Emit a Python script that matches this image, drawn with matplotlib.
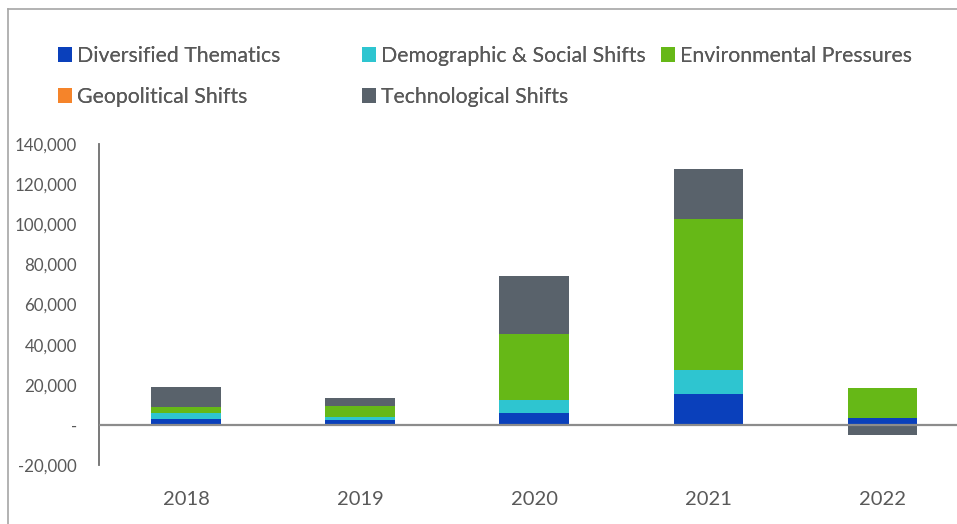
import matplotlib.pyplot as plt
from matplotlib.ticker import FuncFormatter
from matplotlib.lines import Line2D
from matplotlib.patches import Patch
import numpy as np

years = ['2018', '2019', '2020', '2021', '2022']
series = ['Diversified Thematics', 'Demographic & Social Shifts', 'Environmental Pressures',
          'Geopolitical Shifts', 'Technological Shifts']
diversified   = [3100, 2300, 6150, 15300, 3600]
demographic   = [3000, 1500, 6300, 12100, 0]
environmental = [3000, 5650, 32800, 75300, 15000]
geopolitical  = [0, 0, 150, 150, 0]
technological = [10000, 3800, 29000, 24600, -5000]
y_ticks = [-20000, 0, 20000, 40000, 60000, 80000, 100000, 120000, 140000]

colors = ['#0a40bb', '#2ec5d0', '#66b817', '#f5842a', '#59626b']
TXT = '#595959'
plt.rcParams['font.family'] = ['Lato', 'DejaVu Sans']

W, H = 957, 524
fig = plt.figure(figsize=(W / 100, H / 100), dpi=100)
# axes placed in pixel terms: left spine at x=99, y range 144..465
ax = fig.add_axes([99 / W, 1 - 465 / H, (969.5 - 99) / W, (465 - 144) / H])

x = np.arange(len(years))
values = [diversified, demographic, environmental, geopolitical, technological]
pos_base = np.zeros(len(years))
neg_base = np.zeros(len(years))
for vals, col, name in zip(values, colors, series):
    v = np.array(vals, dtype=float)
    bottom = np.where(v >= 0, pos_base, neg_base)
    ax.bar(x, v, 0.4, bottom=bottom, color=col, label=name, linewidth=0)
    pos_base += np.clip(v, 0, None)
    neg_base += np.clip(v, None, 0)

ax.axhline(0, color='#8c8c8c', linewidth=1.6, zorder=3)
ax.set_xlim(-0.5, 4.5)
ax.set_ylim(-20000, 140000)
ax.set_yticks(y_ticks)
ax.yaxis.set_major_formatter(FuncFormatter(lambda v, p: '-' if v == 0 else f'{v:,.0f}'))
ax.set_xticks(x)
ax.set_xticklabels(years)
ax.tick_params(axis='y', length=0, pad=16, labelsize=12.2, labelcolor=TXT)
ax.tick_params(axis='x', length=0, pad=19, labelsize=14.5, labelcolor=TXT)
for s in ['top', 'right', 'bottom']:
    ax.spines[s].set_visible(False)
ax.spines['left'].set_color('#6e6e6e')
ax.spines['left'].set_linewidth(1.3)

# legend entries laid out on a 3-column grid, filled row by row
leg_x = [58, 362, 661]
leg_y = [56, 97]
for i, (name, col) in enumerate(zip(series, colors)):
    cx = leg_x[i % 3]
    cy = leg_y[i // 3]
    lg = fig.legend(handles=[Patch(facecolor=col, edgecolor='none', label=name)],
                    loc='center left', bbox_to_anchor=(cx / W, 1 - cy / H),
                    frameon=False, fontsize=15.3, borderpad=0, borderaxespad=0,
                    handlelength=0.65, handleheight=0.65, handletextpad=0.25,
                    labelcolor=TXT)
    fig.add_artist(lg)

# thin frame on the top and left edges of the picture
fig.add_artist(Line2D([8 / W, 1], [1 - 9 / H, 1 - 9 / H], color='#a6a6a6', linewidth=1.2))
fig.add_artist(Line2D([8 / W, 8 / W], [0, 1 - 9 / H], color='#a6a6a6', linewidth=1.2))

fig.savefig('out.png', dpi=100)
